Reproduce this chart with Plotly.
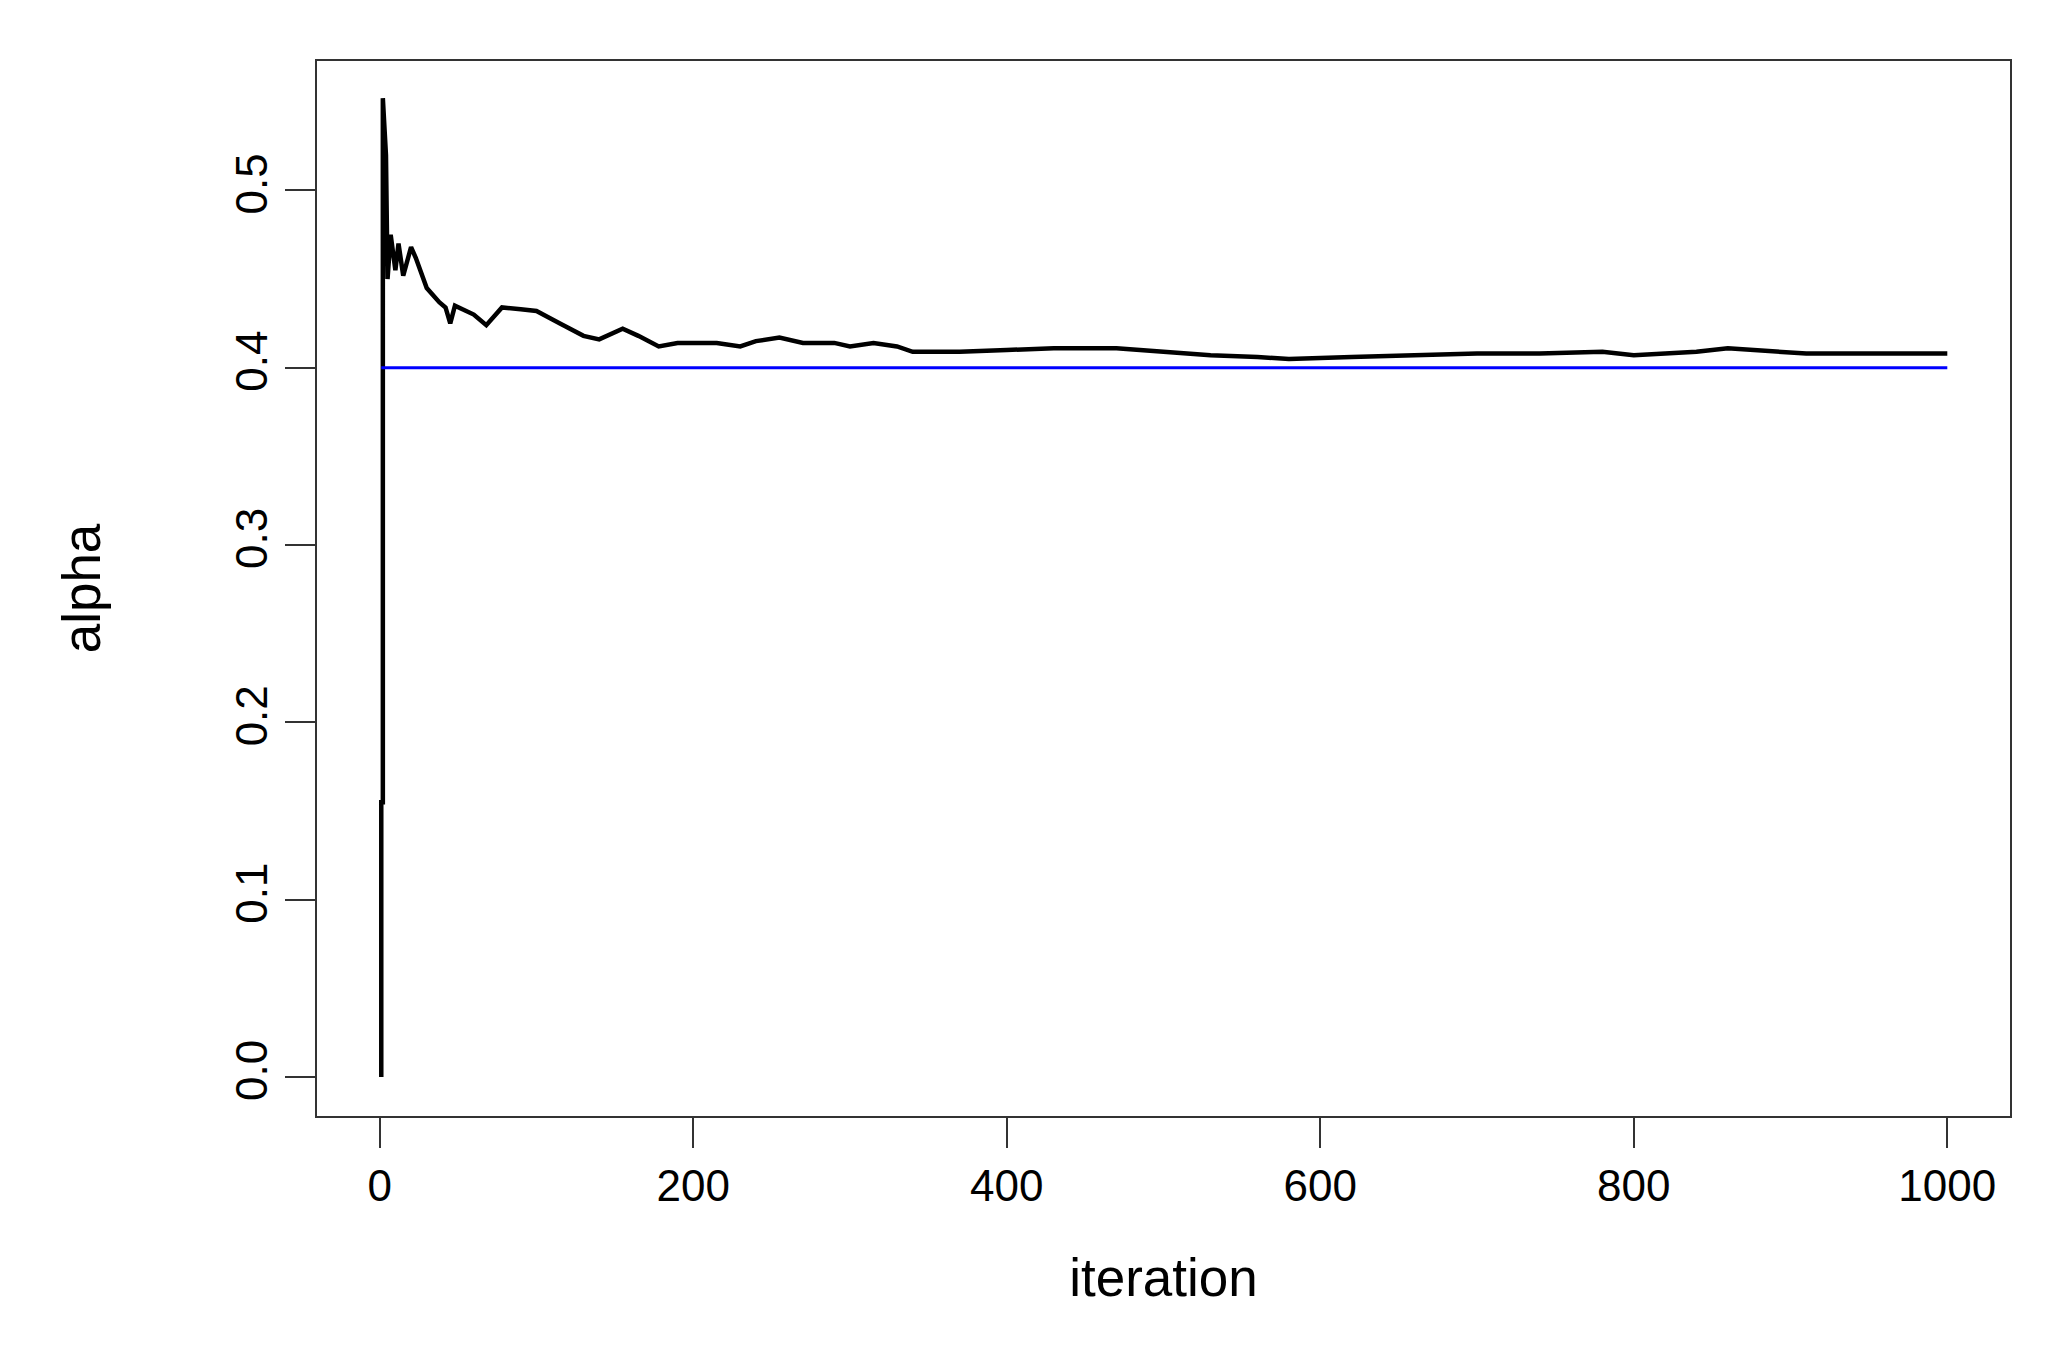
import plotly.graph_objects as go

iteration = [1, 1, 2, 2, 4, 5, 7, 10, 12, 15, 20, 23, 30, 38, 42, 45, 48, 60, 68, 78, 90, 100,
             115, 130, 140, 155, 165, 178, 190, 215, 230, 240, 255, 270, 290, 300, 315, 330,
             340, 370, 400, 430, 470, 500, 530, 560, 580, 620, 660, 700, 740, 780, 800, 840,
             860, 880, 910, 960, 1000]
alpha = [0.0, 0.155, 0.155, 0.552, 0.52, 0.45, 0.475, 0.455, 0.47, 0.452, 0.468, 0.462,
         0.445, 0.437, 0.434, 0.425, 0.435, 0.43, 0.424, 0.434, 0.433, 0.432, 0.425, 0.418,
         0.416, 0.422, 0.418, 0.412, 0.414, 0.414, 0.412, 0.415, 0.417, 0.414, 0.414, 0.412,
         0.414, 0.412, 0.409, 0.409, 0.410, 0.411, 0.411, 0.409, 0.407, 0.406, 0.405, 0.406,
         0.407, 0.408, 0.408, 0.409, 0.407, 0.409, 0.411, 0.410, 0.408, 0.408, 0.408]
true_x = [1, 1000]
true_alpha = [0.4, 0.4]
x_ticks = [0, 200, 400, 600, 800, 1000]
y_ticks = [0.0, 0.1, 0.2, 0.3, 0.4, 0.5]

fig = go.Figure()
fig.add_trace(go.Scatter(x=iteration, y=alpha, mode="lines",
                         line=dict(color="black", width=4.5), showlegend=False))
fig.add_trace(go.Scatter(x=true_x, y=true_alpha, mode="lines",
                         line=dict(color="#0000ff", width=3), showlegend=False))

font = dict(family="Liberation Sans, Arial", size=44, color="black")
fig.update_layout(
    width=2062, height=1364, plot_bgcolor="white", paper_bgcolor="white",
    margin=dict(l=309, r=60, t=53, b=256), font=font,
    xaxis=dict(range=[-40, 1040], tickvals=x_ticks, ticktext=[str(v) for v in x_ticks],
               showgrid=False, zeroline=False, showline=True, linecolor="#333", linewidth=2,
               mirror=True, ticks="outside", ticklen=30, tickwidth=2, tickcolor="#333",
               title=dict(text="iteration", standoff=50)),
    yaxis=dict(range=[-0.022, 0.573], tickvals=y_ticks, ticktext=[f"{v:.1f}" for v in y_ticks],
               tickangle=-90, showgrid=False, zeroline=False, showline=True, linecolor="#333",
               linewidth=2, mirror=True, ticks="outside", ticklen=30, tickwidth=2,
               tickcolor="#333", title=dict(text="alpha", standoff=110)),
)
fig.write_html("out.html")
